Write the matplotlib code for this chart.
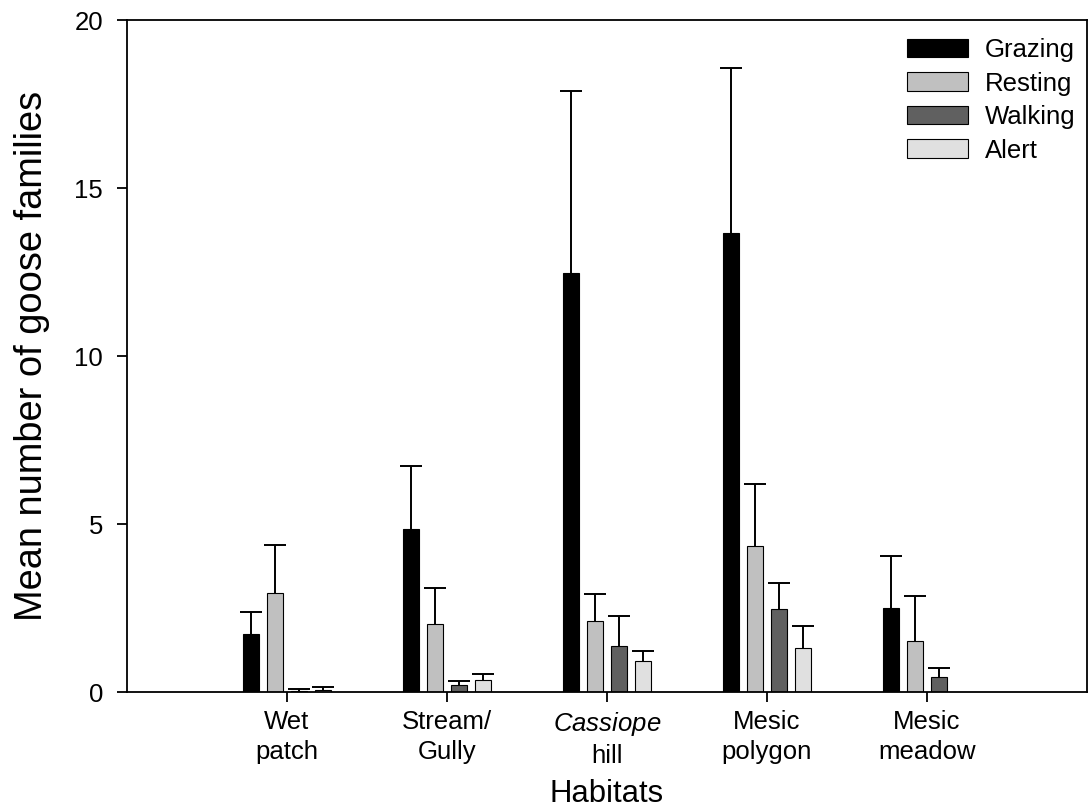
import matplotlib
matplotlib.use("Agg")
import matplotlib.pyplot as plt
import numpy as np

plt.rcParams['font.family'] = ['Liberation Sans', 'DejaVu Sans']
plt.rcParams['mathtext.fontset'] = 'custom'
plt.rcParams['mathtext.rm'] = 'Liberation Sans'
plt.rcParams['mathtext.it'] = 'Liberation Sans:italic'
plt.rcParams['mathtext.bf'] = 'Liberation Sans:bold'

habitats = ["Wet\npatch", "Stream/\nGully", r"$\mathit{Cassiope}$" + "\nhill",
            "Mesic\npolygon", "Mesic\nmeadow"]
behaviours = ["Grazing", "Resting", "Walking", "Alert"]

# mean values
grazing = [1.73, 4.85, 12.46, 13.66, 2.51]
resting = [2.95, 2.03, 2.11, 4.35, 1.51]
walking = [0.04, 0.20, 1.38, 2.46, 0.46]
alert = [0.07, 0.35, 0.91, 1.31, np.nan]

# upper end of error bars
grazing_top = [2.38, 6.74, 17.89, 18.57, 4.06]
resting_top = [4.37, 3.09, 2.92, 6.19, 2.85]
walking_top = [0.10, 0.34, 2.26, 3.24, 0.72]
alert_top = [0.16, 0.54, 1.23, 1.96, np.nan]

colors = ["#000000", "#c0c0c0", "#606060", "#e0e0e0"]

W, H = 1088, 809
fig = plt.figure(figsize=(W / 100, H / 100), dpi=100)
ax = fig.add_axes([127 / W, 1 - 692 / H, 960 / W, 672 / H])

x = np.arange(len(habitats))
offsets = [-0.225, -0.075, 0.075, 0.225]
width = 0.1
series = [(grazing, grazing_top), (resting, resting_top),
          (walking, walking_top), (alert, alert_top)]

for (vals, tops), off, col, name in zip(series, offsets, colors, behaviours):
    v = np.array(vals, dtype=float)
    t = np.array(tops, dtype=float)
    ax.bar(x + off, v, width, color=col, edgecolor="black", linewidth=0.8,
           label=name, zorder=2)
    err = np.vstack([np.zeros_like(v), t - v])
    _, caps, _ = ax.errorbar(x + off, v, yerr=err, fmt="none", ecolor="black",
                             elinewidth=1.4, capsize=7.6, capthick=1.4, zorder=3)
    if len(caps) == 2:
        caps[0].set_visible(False)

ax.set_xlim(-1, 5)
ax.set_ylim(0, 20)
ax.set_yticks([0, 5, 10, 15, 20])
ax.set_xticks(x)
ax.set_xticklabels(habitats, fontsize=18.5, linespacing=1.3)
ax.tick_params(axis="y", labelsize=18.5, direction="out", length=7.2, width=1.3, pad=10)
ax.tick_params(axis="x", direction="out", length=7.2, width=1.3, pad=6)
for s in ax.spines.values():
    s.set_linewidth(1.3)

ax.set_xlabel("Habitats", fontsize=22.4)
ax.xaxis.set_label_coords(0.5, -0.13)
ax.set_ylabel("Mean number of goose families", fontsize=27.4)
ax.yaxis.set_label_coords(-0.0802, 0.5)

leg = ax.legend(loc="upper left", bbox_to_anchor=(907 / W, 1 - 38 / H),
                bbox_transform=fig.transFigure, frameon=False, fontsize=18.5,
                handlelength=2.38, handleheight=0.74, handletextpad=0.66,
                labelspacing=0.37, borderpad=0, borderaxespad=0)

fig.savefig("out.png", dpi=100)
